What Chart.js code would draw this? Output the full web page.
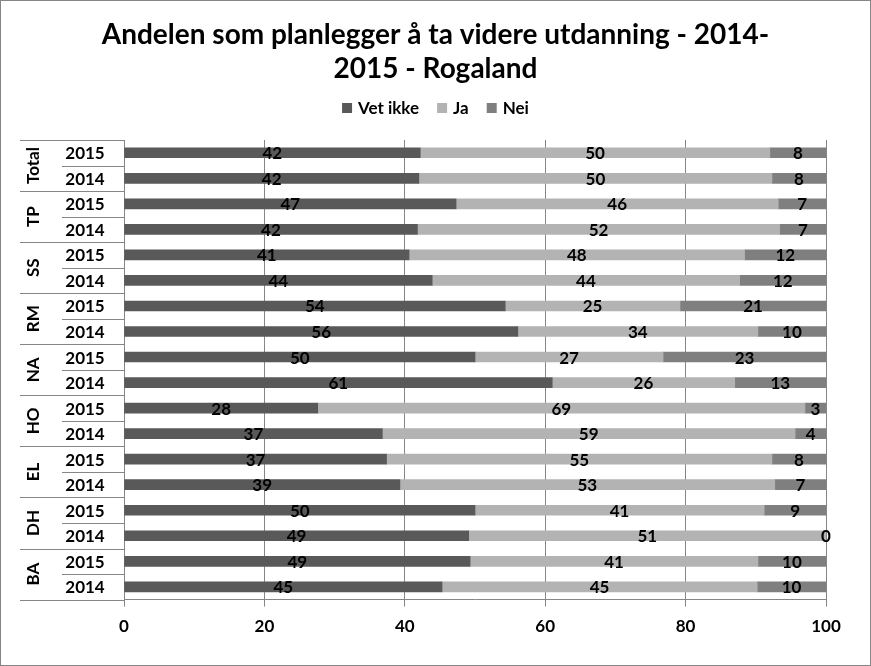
<!DOCTYPE html>
<html>
<head>
<meta charset="utf-8">
<script src="https://cdn.jsdelivr.net/npm/chart.js@4"></script>
<style>
  html, body { margin:0; padding:0; background:#fff; }
  #wrap { width:871px; height:666px; position:relative; }
</style>
</head>
<body>
<div id="wrap"><canvas id="c"></canvas></div>
<script>
// rows: each group has a 2015 and a 2014 bar, top to bottom
const groups = ['Total','TP','SS','RM','NA','HO','EL','DH','BA'];
const years = ['2015','2014'];
const vetIkke = [42.2,42.0,47.3,41.8,40.6,43.9,54.3,56.1,50.0,61.0,27.6,36.8,37.4,39.3,50.0,49.1,49.3,45.3];
const ja      = [49.8,50.3,45.9,51.6,47.8,43.8,24.9,34.2,26.8,26.0,69.4,58.8,54.9,53.4,41.2,50.9,41.0,44.9];
const nei     = [8.0,7.7,6.8,6.6,11.6,12.3,20.8,9.7,23.2,13.0,3.0,4.4,7.7,7.3,8.8,0,9.7,9.8];
const xTicks = [0,20,40,60,80,100];
const titleLines = ['Andelen som planlegger å ta videre utdanning - 2014-','2015 - Rogaland'];

const labels = groups.flatMap(g => years.map(y => g + ' ' + y));
const FONT = 'Lato, "Open Sans", sans-serif';

// frame, title and legend
const header = {
  id:'header',
  afterDraw(chart){
    const c = chart.ctx;
    c.save();
    c.strokeStyle = '#868686';
    c.lineWidth = 1;
    c.strokeRect(0.5, 0.5, chart.width-1, chart.height-1);

    c.fillStyle = '#000';
    c.textAlign = 'center';
    c.textBaseline = 'middle';
    c.font = 'bold 28px ' + FONT;
    titleLines.forEach((t, i) => c.fillText(t, chart.width/2, 35 + i*34));

    c.font = 'bold 17px ' + FONT;
    c.textAlign = 'left';
    const items = chart.data.datasets.map(d => ({ text:d.label, color:d.backgroundColor, w:c.measureText(d.label).width }));
    const total = items.reduce((s, it) => s + 16 + it.w, 0) + 18*(items.length-1);
    let x = chart.width/2 - total/2;
    const ly = 108;
    items.forEach(it => {
      c.fillStyle = it.color;
      c.fillRect(x, ly-5, 10, 10);
      c.fillStyle = '#000';
      c.fillText(it.text, x + 16, ly + 1);
      x += 16 + it.w + 18;
    });
    c.restore();
  }
};

// two-level category table on the left
const leftTable = {
  id:'leftTable',
  afterDraw(chart){
    const c = chart.ctx, y = chart.scales.y, a = chart.chartArea;
    const step = (a.bottom - a.top) / labels.length;
    c.save();
    c.strokeStyle = '#868686';
    c.lineWidth = 1;
    c.beginPath();
    for (let i = 0; i <= labels.length; i++){
      const yy = Math.round(a.top + i*step) + 0.5;
      const x0 = (i % 2 === 0) ? 20 : 62;
      c.moveTo(x0, yy); c.lineTo(a.left, yy);
    }
    c.stroke();
    c.fillStyle = '#000';
    c.font = 'bold 17px ' + FONT;
    c.textAlign = 'center';
    c.textBaseline = 'middle';
    labels.forEach((l, i) => {
      c.fillText(years[i % 2], 85, y.getPixelForValue(i) + 1);
    });
    groups.forEach((g, gi) => {
      const yc = (y.getPixelForValue(gi*2) + y.getPixelForValue(gi*2+1)) / 2;
      c.save();
      c.translate(34, yc);
      c.rotate(-Math.PI/2);
      c.fillText(g, 0, 0);
      c.restore();
    });
    c.restore();
  }
};

// value labels centred in each segment
const valueLabels = {
  id:'valueLabels',
  afterDatasetsDraw(chart){
    const c = chart.ctx;
    c.save();
    c.fillStyle = '#000';
    c.font = 'bold 17px ' + FONT;
    c.textAlign = 'center';
    c.textBaseline = 'middle';
    chart.data.datasets.forEach((ds, di) => {
      chart.getDatasetMeta(di).data.forEach((bar, i) => {
        const cx = (bar.x + bar.base) / 2;
        c.fillText(String(Math.round(ds.data[i])), cx, bar.y + 1);
      });
    });
    c.restore();
  }
};

new Chart(document.getElementById('c'), {
  type:'bar',
  data:{ labels, datasets:[
    { label:'Vet ikke', data:vetIkke, backgroundColor:'#595959' },
    { label:'Ja', data:ja, backgroundColor:'#b3b3b3' },
    { label:'Nei', data:nei, backgroundColor:'#7f7f7f' }
  ]},
  options:{
    indexAxis:'y',
    responsive:true,
    maintainAspectRatio:false,
    animation:false,
    barThickness:10,
    layout:{ padding:{ left:124, right:45, top:140, bottom:19 } },
    plugins:{
      title:{ display:false },
      legend:{ display:false },
      tooltip:{ enabled:false }
    },
    scales:{
      x:{ stacked:true, min:0, max:100,
        afterBuildTicks(s){ s.ticks = xTicks.map(v => ({ value:v })); },
        grid:{ color:'#868686', tickLength:7, drawTicks:true },
        border:{ color:'#868686' },
        ticks:{ color:'#000', padding:10, font:{ family:FONT, size:17, weight:'bold' } } },
      y:{ stacked:true, ticks:{ display:false }, grid:{ display:false },
        afterFit(s){ s.width = 0; },
        border:{ color:'#868686' } }
    }
  },
  plugins:[header, leftTable, valueLabels]
});
</script>
</body>
</html>
